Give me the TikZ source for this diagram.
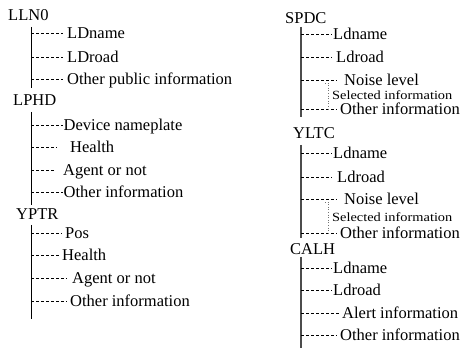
\documentclass[tikz,border=0pt]{standalone}
\usepackage{graphicx}
\usepackage{fontspec}
\setmainfont{Liberation Serif}
\newcommand\leaf[6]{%
  \node[lbl] (#1) at (#3,{#4+5.5}) {#6};
  \coordinate (#1d) at (#5,#4);
  \draw[branch] (#2 |- #1d) -- (#1d);}
\newcommand\widetext[1]{\scalebox{1.15}[1]{#1}}
\begin{document}
\begin{tikzpicture}[x=1pt,y=-1pt,
  lbl/.style={inner sep=0pt, anchor=base west, font=\fontsize{16.5}{18}\selectfont},
  small/.style={inner sep=0pt, anchor=base west, font=\fontsize{12.5}{14}\selectfont},
  trunkL/.style={line width=0.9pt, black},
  trunkR/.style={line width=1.2pt, black!70},
  branch/.style={line width=0.6pt, dash pattern=on 3pt off 2pt},
  sel/.style={line width=0.6pt, dotted, black!55}]
\useasboundingbox (0,0) rectangle (467,350);

% ---------- left column ----------
\node[lbl] (lln0) at (8,20.5) {LLN0};
\coordinate (a1) at (31,27); \coordinate (a2) at (31,88);
\draw[trunkL] (a1) -- (a2);
\leaf{a3}{a1}{67}{33}{63}{LDname}
\leaf{a4}{a1}{67}{57}{63}{LDroad}
\leaf{a5}{a1}{67}{79}{63}{Other public information}

\node[lbl] (lphd) at (13,105.5) {LPHD};
\coordinate (b1) at (31,112); \coordinate (b2) at (31,205);
\draw[trunkL] (b1) -- (b2);
\leaf{b3}{b1}{63.5}{125}{63}{Device nameplate}
\leaf{b4}{b1}{70}{147}{57}{Health}
\leaf{b5}{b1}{63}{170}{55}{Agent or not}
\leaf{b6}{b1}{63.5}{192}{63}{Other information}

\node[lbl] (yptr) at (16,219.5) {YPTR};
\coordinate (c1) at (31,225); \coordinate (c2) at (31,319);
\draw[trunkL] (c1) -- (c2);
\leaf{c3}{c1}{65}{233}{62}{Pos}
\leaf{c4}{c1}{62}{255}{60}{Health}
\leaf{c5}{c1}{72}{278}{67}{Agent or not}
\leaf{c6}{c1}{70}{301}{67}{Other information}

% ---------- right column ----------
\node[lbl] (spdc) at (285,23.5) {SPDC};
\coordinate (d1) at (301,27); \coordinate (d2) at (301,117);
\draw[trunkR] (d1) -- (d2);
\leaf{d3}{d1}{333}{34}{332}{Ldname}
\leaf{d4}{d1}{336}{57}{332}{Ldroad}
\leaf{d5}{d1}{344}{80}{337}{Noise level}
\node[small] (d6) at (332,99.5) {\widetext{Selected information}};
\leaf{d7}{d1}{340}{109}{337}{Other information}
\coordinate (d8) at (325,83); \coordinate (d9) at (328,83);
\draw[sel] (d8) -- (d9) -- (d9 |- d7d);

\node[lbl] (yltc) at (293,138.5) {YLTC};
\coordinate (e1) at (301,145); \coordinate (e2) at (301,238);
\draw[trunkR] (e1) -- (e2);
\leaf{e3}{e1}{333}{153}{332}{Ldname}
\leaf{e4}{e1}{337}{177}{332}{Ldroad}
\leaf{e5}{e1}{344}{199}{337}{Noise level}
\node[small] (e6) at (332,221.5) {\widetext{Selected information}};
\leaf{e7}{e1}{340}{233.5}{337}{Other information}
\coordinate (e8) at (325,202); \coordinate (e9) at (328,202);
\draw[sel] (e8) -- (e9) -- (e9 |- e7d);

\node[lbl] (calh) at (290,254.5) {CALH};
\coordinate (f1) at (301,257); \coordinate (f2) at (301,348);
\draw[trunkR] (f1) -- (f2);
\leaf{f3}{f1}{333}{268}{332}{Ldname}
\leaf{f4}{f1}{333}{290}{332}{Ldroad}
\leaf{f5}{f1}{342}{313}{340}{Alert information}
\leaf{f6}{f1}{340}{335}{337}{Other information}
\end{tikzpicture}
\end{document}
